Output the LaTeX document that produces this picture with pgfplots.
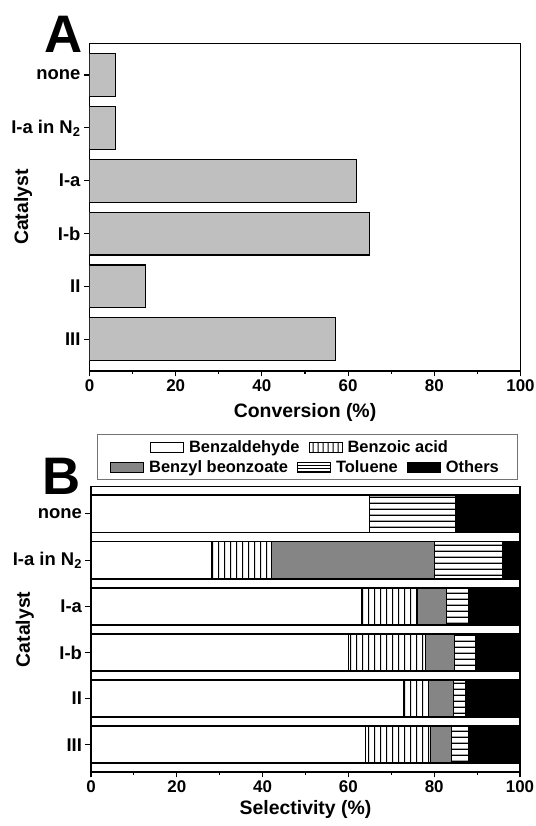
\documentclass[border=0pt]{standalone}
\usepackage{fontspec}
\setmainfont{Liberation Sans}
\usepackage{pgfplots}
\pgfplotsset{compat=1.18}
\usetikzlibrary{patterns}

% long tiles so the hatching has no visible seams
\pgfdeclarepatternformonly{vlines}{\pgfpointorigin}{\pgfqpoint{6bp}{900bp}}{\pgfqpoint{6bp}{900bp}}{%
  \pgfsetlinewidth{1.2bp}\pgfpathmoveto{\pgfqpoint{3bp}{0bp}}\pgfpathlineto{\pgfqpoint{3bp}{900bp}}\pgfusepath{stroke}}
\pgfdeclarepatternformonly{hlines}{\pgfpointorigin}{\pgfqpoint{600bp}{5.7bp}}{\pgfqpoint{600bp}{5.7bp}}{%
  \pgfsetlinewidth{1.2bp}\pgfpathmoveto{\pgfqpoint{0bp}{2.85bp}}\pgfpathlineto{\pgfqpoint{600bp}{2.85bp}}\pgfusepath{stroke}}
\pgfdeclarepatternformonly{vlinesleg}{\pgfpointorigin}{\pgfqpoint{4.5bp}{900bp}}{\pgfqpoint{4.5bp}{900bp}}{%
  \pgfsetlinewidth{1bp}\pgfpathmoveto{\pgfqpoint{2.25bp}{0bp}}\pgfpathlineto{\pgfqpoint{2.25bp}{900bp}}\pgfusepath{stroke}}
\pgfdeclarepatternformonly{hlinesleg}{\pgfpointorigin}{\pgfqpoint{600bp}{3.4bp}}{\pgfqpoint{600bp}{3.4bp}}{%
  \pgfsetlinewidth{1bp}\pgfpathmoveto{\pgfqpoint{0bp}{1.7bp}}\pgfpathlineto{\pgfqpoint{600bp}{1.7bp}}\pgfusepath{stroke}}

\pgfplotsset{
  panel/.style={
    scale only axis, anchor=south west,
    xmin=0, xmax=100,
    xtick={0,20,...,100}, minor x tick num=1,
    ytick={0,...,5},
    yticklabels={III,II,I-b,I-a,I-a in N\textsubscript{2},none},
    tick pos=left, tick align=outside,
    major tick length=5.5bp, minor tick length=3bp,
    axis line style={line width=1.3bp},
    tick style={line width=1.1bp, black},
    /pgf/number format/assume math mode=true,
    xticklabel style={font=\bfseries\fontsize{17}{17}\selectfont},
    yticklabel style={font=\bfseries\fontsize{18.5}{18.5}\selectfont},
    label style={font=\bfseries\fontsize{19.5}{19.5}\selectfont},
    ylabel={Catalyst},
    ylabel style={at={(axis description cs:-0.154,0.5)}, anchor=center},
  },
  hidden/.style={
    scale only axis, anchor=south west, hide axis,
    xmin=0, xmax=100, ymin=-0.59, ymax=5.59,
    at={(91bp,54bp)}, width=429bp, height=285.3bp,
    legend image code/.code={\draw[#1, line width=1bp] (0bp,-5bp) rectangle (33bp,5bp);},
    legend style={draw=none, fill=none, anchor=center,
      font=\bfseries\fontsize{16.5}{16.5}\selectfont,
      nodes={inner xsep=5bp, inner ysep=1bp},
      /tikz/every even column/.append style={column sep=4bp}},
  },
}

\begin{document}
\begin{tikzpicture}
\useasboundingbox (0,0) rectangle (536bp,826bp);

% panel A
\begin{axis}[panel, at={(89.5bp,455bp)}, width=431bp, height=327.7bp,
  ymin=-0.6, ymax=5.6,
  xlabel={Conversion (\%)},
  xlabel style={at={(axis description cs:0.5,-0.128)}, anchor=center}]
\addplot[xbar, bar width=0.81, fill=black!25, draw=black, line width=1.1bp]
  coordinates {(57,0) (13,1) (65,2) (62,3) (6,4) (6,5)};
\end{axis}

% panel B: thin separator bars
\begin{axis}[hidden,
  legend columns=2, legend style={at={(0.4907,1.139)}}]
\addplot[xbar, bar width=0.18, fill=white, draw=black, line width=1.1bp, forget plot]
  coordinates {(100,-0.5) (100,0.5) (100,1.5) (100,2.5) (100,3.5) (100,4.5) (100,5.5)};
\addlegendimage{fill=white, draw=black}
\addlegendentry{Benzaldehyde}
\addlegendimage{draw=black, pattern=vlinesleg}
\addlegendentry{Benzoic acid}
\end{axis}

% panel B: stacked selectivity
\begin{axis}[panel, xbar stacked, at={(91bp,54bp)}, width=429bp, height=285.3bp,
  ymin=-0.59, ymax=5.59, bar width=0.79,
  xlabel={Selectivity (\%)},
  xlabel style={at={(axis description cs:0.5,-0.133)}, anchor=center}]
\addplot[fill=white, draw=black, line width=1.1bp]
  coordinates {(64,0) (72.8,1) (60,2) (63,3) (28,4) (65,5)};
\addplot[fill=white, draw=black, line width=1.1bp, pattern=vlines]
  coordinates {(15.1,0) (5.9,1) (18,2) (13,3) (14,4) (0,5)};
\addplot[fill=black!48, draw=black, line width=1.1bp]
  coordinates {(5.0,0) (5.7,1) (6.7,2) (6.9,3) (38,4) (0,5)};
\addplot[fill=white, draw=black, line width=1.1bp, pattern=hlines]
  coordinates {(3.8,0) (2.8,1) (4.9,2) (5,3) (16,4) (20,5)};
\addplot[fill=black, draw=black, line width=1.1bp]
  coordinates {(12.1,0) (12.8,1) (10.4,2) (12.1,3) (4,4) (15,5)};
\end{axis}

% panel B: second legend row
\begin{axis}[hidden,
  legend columns=3, legend style={at={(0.5035,1.0666)}}]
\addlegendimage{fill=black!48, draw=black}
\addlegendentry{Benzyl beonzoate}
\addlegendimage{draw=black, pattern=hlinesleg}
\addlegendentry{Toluene}
\addlegendimage{fill=black, draw=black}
\addlegendentry{Others}
\end{axis}

\draw[black!55, line width=0.8bp] (97bp,347bp) rectangle (517bp,392bp);

\node[font=\bfseries\fontsize{53}{53}\selectfont, inner sep=0] at (63.3bp,791.8bp) {A};
\node[font=\bfseries\fontsize{53}{53}\selectfont, inner sep=0] at (61.6bp,350bp) {B};
\end{tikzpicture}
\end{document}
